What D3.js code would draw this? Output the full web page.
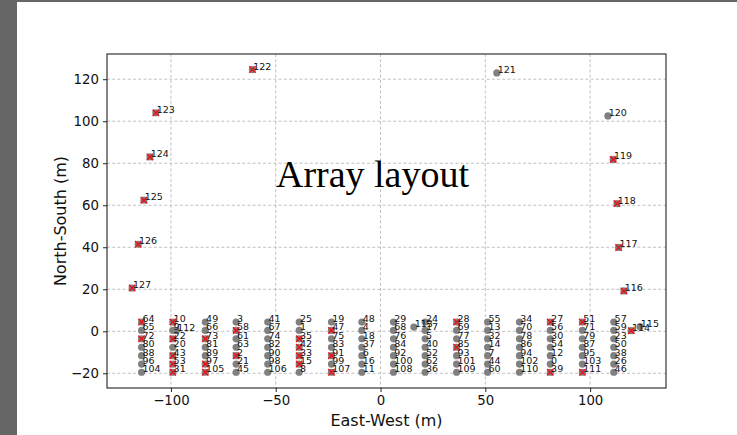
<!DOCTYPE html>
<html><head><meta charset="utf-8">
<script src="https://cdn.jsdelivr.net/npm/d3@7"></script>
<style>
html,body{margin:0;padding:0;background:#fff;}
svg{display:block;}
</style></head>
<body>
<svg id="c" width="737" height="435"></svg>
<script>
// ---- data ----
const title = "Array layout";
const xLabel = "East-West (m)";
const yLabel = "North-South (m)";
const xTicks = [-100, -50, 0, 50, 100];
const yTicks = [-20, 0, 20, 40, 60, 80, 100, 120];

// core grid: 16 columns (east-west position) x 7 rows (north-south position)
const colX = [-114, -99.1, -83.6, -68.9, -53.8, -38.8, -23.4, -8.9, 6.2, 21.3, 36.3, 51.1, 66.3, 81.0, 96.3, 111.3];
const rowY = [4.4, 0.4, -3.6, -7.6, -11.6, -15.6, -19.5];
const colIds = [
  [64, 65, 72, 80, 88, 96, 104],
  [10, 9, 22, 20, 43, 53, 31],
  [49, 66, 73, 81, 89, 97, 105],
  [3, 58, 61, 63, 2, 21, 45],
  [41, 67, 74, 82, 90, 98, 106],
  [25, 1, 35, 42, 33, 15, 8],
  [19, 47, 75, 83, 91, 99, 107],
  [48, 4, 18, 37, 6, 16, 11],
  [29, 68, 76, 84, 92, 100, 108],
  [24, 17, 5, 40, 52, 62, 36],
  [28, 69, 77, 85, 93, 101, 109],
  [55, 13, 32, 14, 7, 44, 60],
  [34, 70, 78, 86, 94, 102, 110],
  [27, 56, 30, 54, 12, 0, 39],
  [51, 71, 79, 87, 95, 103, 111],
  [57, 59, 23, 50, 38, 26, 46]
];
// extra / outrigger antennas
const extraIds = [112, 113, 114, 115, 116, 117, 118, 119, 120, 121, 122, 123, 124, 125, 126, 127];
const extraX   = [-97.4, 15.9, 119.6, 123.8, 116.1, 113.6, 112.8, 111.0, 108.5, 55.5, -61.1, -107.2, -110.0, -112.9, -115.6, -118.5];
const extraY   = [0.3, 2.0, 0.3, 2.2, 19.2, 39.9, 60.8, 81.8, 102.5, 123.0, 124.6, 104.0, 83.0, 62.4, 41.4, 20.6];
// antennas flagged with a red cross
const flagged = [64, 72, 10, 22, 43, 53, 31, 73, 97, 105, 58, 2, 35, 42, 33, 15, 47, 91, 107,
                 28, 85, 27, 39, 51, 111, 114, 116, 117, 118, 119, 122, 123, 124, 125, 126, 127];

// ---- build table ----
const ants = [];
colIds.forEach((ids, ci) => ids.forEach((id, ri) => ants.push({id, x: colX[ci], y: rowY[ri]})));
extraIds.forEach((id, i) => ants.push({id, x: extraX[i], y: extraY[i]}));
const flagSet = new Set(flagged);

// ---- layout ----
const svg = d3.select("#c");
svg.append("rect").attr("x", 0).attr("y", 0).attr("width", 17).attr("height", 435).attr("fill", "#666666");
svg.append("rect").attr("x", 0).attr("y", 0).attr("width", 737).attr("height", 2).attr("fill", "#666666");

const L = 107, R = 666, T = 54, B = 388;
const x = d3.scaleLinear().domain([-130.5, 136.2]).range([L, R]);
const y = d3.scaleLinear().domain([-27.0, 132.0]).range([B, T]);

const g = svg.append("g");

// grid
g.append("g").selectAll("line").data(xTicks).join("line")
  .attr("x1", d => x(d)).attr("x2", d => x(d)).attr("y1", T).attr("y2", B)
  .attr("stroke", "#b9b9b9").attr("stroke-width", 0.9).attr("stroke-dasharray", "3,2.2");
g.append("g").selectAll("line").data(yTicks).join("line")
  .attr("x1", L).attr("x2", R).attr("y1", d => y(d)).attr("y2", d => y(d))
  .attr("stroke", "#b9b9b9").attr("stroke-width", 0.9).attr("stroke-dasharray", "3,2.2");

// axes
const fmt = d => d < 0 ? "\u2212" + Math.abs(d) : String(d);
const xAxis = g.append("g").attr("transform", `translate(0,${B})`)
  .call(d3.axisBottom(x).tickValues(xTicks).tickFormat(fmt).tickSize(4).tickPadding(4));
const yAxis = g.append("g").attr("transform", `translate(${L},0)`)
  .call(d3.axisLeft(y).tickValues(yTicks).tickFormat(fmt).tickSize(4).tickPadding(4));
[xAxis, yAxis].forEach(a => {
  a.select(".domain").remove();
  a.selectAll(".tick line").attr("stroke", "#222").attr("stroke-width", 1);
  a.selectAll(".tick text").attr("fill", "#111").style("font-family", "DejaVu Sans").style("font-size", "13.3px");
});

// frame
g.append("rect").attr("x", L).attr("y", T).attr("width", R - L).attr("height", B - T)
  .attr("fill", "none").attr("stroke", "#222").attr("stroke-width", 1.1);

// markers
const pts = g.append("g");
pts.selectAll("circle").data(ants).join("circle")
  .attr("cx", d => x(d.x)).attr("cy", d => y(d.y)).attr("r", 3.6).attr("fill", "#808080");
const s = 3.2;
pts.selectAll("path.flag").data(ants.filter(d => flagSet.has(d.id))).join("path")
  .attr("class", "flag")
  .attr("d", d => { const cx = x(d.x), cy = y(d.y);
    return `M${cx - s},${cy - s}L${cx + s},${cy + s}M${cx - s},${cy + s}L${cx + s},${cy - s}`; })
  .attr("stroke", "#e8141c").attr("stroke-width", 1.5).attr("fill", "none");

// labels
g.append("g").selectAll("text").data(ants).join("text")
  .attr("x", d => x(d.x) + 0.8).attr("y", d => y(d.y))
  .text(d => d.id)
  .style("font-family", "DejaVu Sans").style("font-size", "9.5px").attr("fill", "#111");

// title
svg.append("text").attr("x", 372.5).attr("y", 187).attr("text-anchor", "middle")
  .style("font-family", "Liberation Serif").style("font-size", "38px").attr("fill", "#000")
  .text(title);

// axis labels
svg.append("text").attr("x", (L + R) / 2).attr("y", 426).attr("text-anchor", "middle")
  .style("font-family", "DejaVu Sans").style("font-size", "16px").attr("fill", "#111").text(xLabel);
svg.append("text").attr("transform", `translate(66,${(T + B) / 2}) rotate(-90)`).attr("text-anchor", "middle")
  .style("font-family", "DejaVu Sans").style("font-size", "16px").attr("fill", "#111").text(yLabel);
</script>
</body></html>
